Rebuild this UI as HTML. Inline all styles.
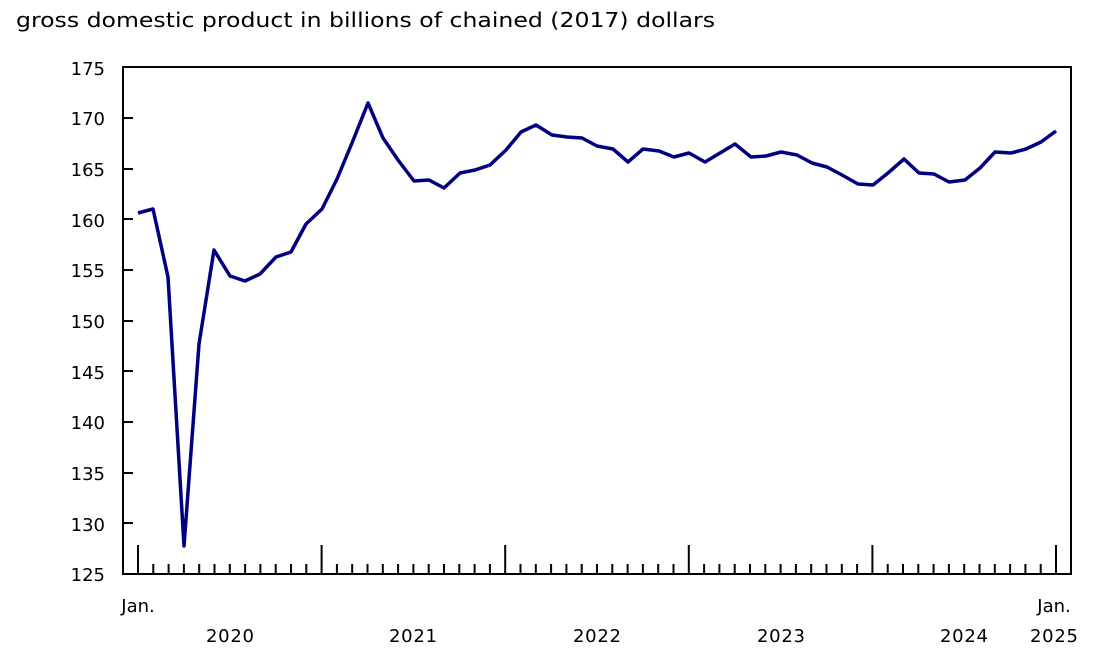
<!DOCTYPE html>
<html><head><meta charset="utf-8"><style>
body{margin:0;background:#fff;width:1112px;height:667px;overflow:hidden}
text{font-family:"DejaVu Sans","Liberation Sans",sans-serif;fill:#000}
</style></head><body>
<svg width="1112" height="667" xmlns="http://www.w3.org/2000/svg">
<text x="16" y="27" font-size="20" textLength="699" lengthAdjust="spacingAndGlyphs">gross domestic product in billions of chained (2017) dollars</text>
<rect x="123" y="67" width="948" height="507" fill="none" stroke="#000" stroke-width="2"/>
<g stroke="#000" stroke-width="2">
<line x1="123" y1="118" x2="133" y2="118"/><line x1="123" y1="169" x2="133" y2="169"/>
<line x1="123" y1="219" x2="133" y2="219"/><line x1="123" y1="270" x2="133" y2="270"/>
<line x1="123" y1="321" x2="133" y2="321"/><line x1="123" y1="371" x2="133" y2="371"/>
<line x1="123" y1="422" x2="133" y2="422"/><line x1="123" y1="473" x2="133" y2="473"/>
<line x1="123" y1="523" x2="133" y2="523"/>
</g>
<g font-size="18" text-anchor="end">
<text x="105" y="75">175</text><text x="105" y="125">170</text><text x="105" y="176">165</text>
<text x="105" y="227">160</text><text x="105" y="277">155</text><text x="105" y="328">150</text>
<text x="105" y="379">145</text><text x="105" y="429">140</text><text x="105" y="480">135</text>
<text x="105" y="531">130</text><text x="105" y="581">125</text>
</g>
<g id="ticks" stroke="#000" stroke-width="2"></g>
<g font-size="18" text-anchor="middle">
<text x="138" y="612">Jan.</text>
<text x="230" y="642" textLength="48">2020</text><text x="413" y="642" textLength="48">2021</text><text x="597" y="642" textLength="48">2022</text>
<text x="781" y="642" textLength="48">2023</text><text x="964" y="642" textLength="48">2024</text>
<text x="1054" y="612">Jan.</text><text x="1054" y="642" textLength="48">2025</text>
</g>
<polyline fill="none" stroke="#000080" stroke-width="3.5" stroke-linejoin="round" points="138,213 153,209 168,277 184,546 199,344 214,250 230,276 245,281 260,274 276,257 291,252 306,224 322,209 337,179 352,143 368,103 383,138 398,160 414,181 429,180 444,188 460,173 475,170 490,165 506,150 521,132 536,125 552,135 567,137 582,138 597,146 613,149 628,162 643,149 659,151 674,157 689,153 705,162 720,153 735,144 751,157 766,156 781,152 797,155 812,163 827,167 842,175 858,184 873,185 888,173 904,159 919,173 934,174 949,182 965,180 980,168 995,152 1011,153 1026,149 1041,142 1056,131"/>
</svg>
<script>
var g=document.getElementById('ticks'),s='';
for(var i=0;i<=60;i++){var x=138+i*15.3;var y1=(i%12==0)?545:564;
s+='<line x1="'+x+'" y1="'+y1+'" x2="'+x+'" y2="574"/>';}
g.innerHTML=s;
</script>
</body></html>
